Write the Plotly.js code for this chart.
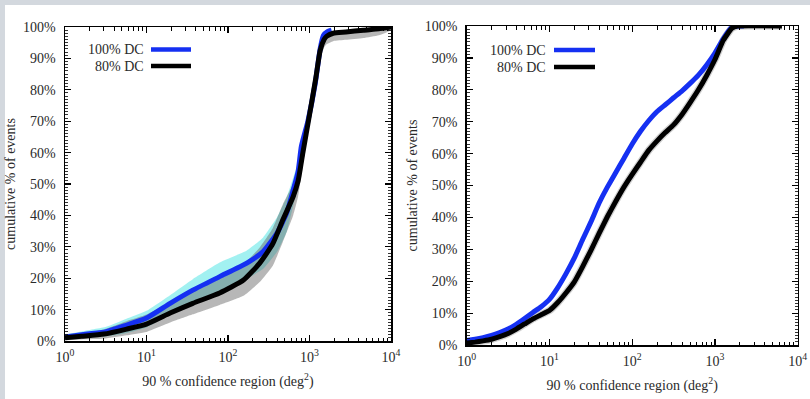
<!DOCTYPE html>
<html><head><meta charset="utf-8">
<script src="https://cdn.plot.ly/plotly-3.0.1.min.js"></script>
<style>html,body{margin:0;padding:0;background:#d3d8de;overflow:hidden}#chart{width:810px;height:399px}</style>
</head><body><div id="chart"></div><script>
// ---------- data ----------
const seriesNames = ['100% DC', '80% DC'];
const xTickVals = [1, 10, 100, 1000, 10000];
const xTickText = ['10<sup>0</sup>', '10<sup>1</sup>', '10<sup>2</sup>', '10<sup>3</sup>', '10<sup>4</sup>'];

// Left panel
const leftBlueX = [1, 1.6, 3.2, 5.6, 10, 19.5, 37, 79, 170, 270, 400, 525, 630, 725, 795, 955, 1175, 1350, 1480, 1660, 1860];
const leftBlueY = [1.3, 2.0, 3.0, 5.0, 7.3, 12, 16.2, 20.5, 24.8, 28.5, 34.4, 40.8, 48, 54, 62, 70, 82, 93, 97.3, 98.5, 99];
const leftBlueUpper = [2.1, 3.0, 4.5, 7.0, 9.6, 14.6, 19.7, 25.0, 28.8, 33.0, 39.4, 45.8, 52, 57, 64, 72, 84, 94.5, 98.3, 99.3, 99.5];
const leftBlueLower = [0.5, 1.0, 1.5, 2.5, 4.3, 8.5, 12.2, 16.0, 19.8, 23.0, 28.4, 34.8, 43, 50, 59, 67, 79, 91, 95.8, 97.5, 98.5];

const leftBlackX = [1, 1.6, 3, 5.7, 10, 19.5, 37, 79, 155, 245, 355, 470, 630, 725, 830, 1000, 1200, 1350, 1510, 1620, 1950, 2800, 4570, 7080, 10000];
const leftBlackY = [1.0, 1.5, 2.2, 3.8, 5.4, 8.9, 12, 15.3, 19.4, 24.8, 31, 38.5, 46, 51, 60, 72, 84, 92.5, 96, 97, 98, 98.4, 99, 99.4, 100];
const leftBlackUpper = [1.8, 2.5, 3.7, 6.3, 8.4, 12.4, 16, 19.8, 24.4, 29.8, 36, 43.5, 50, 54, 63, 75, 86, 94, 97, 97.5, 98.5, 98.7, 99.3, 99.7, 100.3];
const leftBlackLower = [0.2, 0.5, 0.7, 1.8, 2.9, 5.9, 8.5, 11.5, 14.4, 18.8, 24, 31.5, 40, 46, 56, 69, 81, 89.5, 93.5, 94.5, 95.5, 95.9, 96.5, 97.4, 99];

// Right panel
const rightBlueX = [1, 1.26, 1.58, 2.0, 2.51, 3.16, 3.98, 5.01, 6.31, 7.94, 10, 12.6, 15.8, 20, 25.1, 31.6, 39.8, 50.1, 63.1, 79.4, 100, 126, 158, 200, 251, 316, 398, 501, 631, 794, 1000, 1259, 1585, 1905, 2239];
const rightBlueY = [1.4, 1.8, 2.3, 3.0, 3.9, 5.0, 6.5, 8.3, 10.2, 12.0, 14.3, 18.0, 22.3, 27.3, 33.0, 38.5, 44.5, 49.5, 54.0, 58.5, 63.0, 67.0, 70.3, 73.2, 75.3, 77.5, 79.6, 82.0, 84.6, 87.8, 91.5, 96.0, 99.5, 100, 100];
const rightBlackX = [1, 1.26, 1.58, 2.0, 2.51, 3.16, 3.98, 5.01, 6.31, 7.94, 10, 12.6, 15.8, 20, 25.1, 31.6, 39.8, 50.1, 63.1, 79.4, 100, 126, 158, 200, 251, 316, 398, 501, 631, 794, 1000, 1259, 1585, 1862, 6450];
const rightBlackY = [0.6, 0.9, 1.3, 1.8, 2.6, 3.6, 5.0, 6.6, 8.2, 9.5, 10.8, 13.3, 16.3, 19.8, 24.5, 29.6, 35.0, 40.2, 45.0, 49.5, 53.5, 57.3, 61.0, 64.0, 66.6, 69.0, 72.2, 76.0, 80.0, 84.5, 89.5, 95.5, 99.2, 100, 100];

// ---------- styling ----------
const W = 810, H = 399;
const fx = p => p / W, fy = p => 1 - p / H;
const BLUE = '#1530f2', BLACK = '#000000';
const FONT = {family: 'Liberation Serif, Times New Roman, serif', size: 14, color: '#2a2a2a'};

function band(xs, lo, hi, color, xa, ya) {
  return {x: xs.concat(xs.slice().reverse()), y: lo.concat(hi.slice().reverse()),
    xaxis: xa, yaxis: ya, type: 'scatter', mode: 'lines', fill: 'toself',
    fillcolor: color, line: {width: 0, shape: 'spline', smoothing: 0.4}, hoverinfo: 'skip', showlegend: false};
}
function line(xs, ys, color, name, xa, ya, sm) {
  return {x: xs, y: ys, xaxis: xa, yaxis: ya, type: 'scatter', mode: 'lines', name: name,
    line: {color: color, width: 5, shape: 'spline', smoothing: sm}, showlegend: false};
}

const traces = [
  band(leftBlueX, leftBlueLower, leftBlueUpper, 'rgba(70,228,228,0.5)', 'x', 'y'),
  band(leftBlackX, leftBlackLower, leftBlackUpper, 'rgba(95,95,95,0.45)', 'x', 'y'),
  line(leftBlueX, leftBlueY, BLUE, seriesNames[0], 'x', 'y', 0.5),
  line(leftBlackX, leftBlackY, BLACK, seriesNames[1], 'x', 'y', 0.5),
  line(rightBlackX, rightBlackY, 'rgba(120,120,120,0.35)', seriesNames[1], 'x2', 'y2', 0.3),
  line(rightBlueX, rightBlueY, BLUE, seriesNames[0], 'x2', 'y2', 0.3),
  line(rightBlackX, rightBlackY, BLACK, seriesNames[1], 'x2', 'y2', 0.3)
];
traces[4].line.width = 7.5;

const minorX = [];
for (let d = 1; d < 10000; d *= 10) for (let k = 2; k <= 9; k++) minorX.push(k * d);

function xAxis(dom, anchor) {
  return {type: 'log', range: [0, 4], domain: dom, anchor: anchor,
    showline: true, linewidth: 1.5, linecolor: '#000', mirror: 'ticks',
    ticks: 'inside', ticklen: 6, tickwidth: 1.2, tickcolor: '#000',
    tickmode: 'array', tickvals: xTickVals, ticktext: xTickText,
    minor: {ticks: 'inside', ticklen: 3.5, tickwidth: 1, tickcolor: '#000', tickmode: 'array', tickvals: minorX, showgrid: false},
    showgrid: false, zeroline: false, tickfont: FONT, ticklabelstandoff: 3,
    title: {text: '90 % confidence region (deg<sup>2</sup>)', font: FONT, standoff: 12}, automargin: false, fixedrange: true};
}
function yAxis(dom, anchor) {
  return {range: [0, 100], domain: dom, anchor: anchor,
    showline: true, linewidth: 1.5, linecolor: '#000', mirror: 'ticks',
    ticks: 'inside', ticklen: 6, tickwidth: 1.2, tickcolor: '#000',
    dtick: 10, tick0: 0, ticksuffix: '%',
    minor: {ticks: 'inside', ticklen: 3, tickwidth: 0.8, tickcolor: '#000', dtick: 1, showgrid: false},
    showgrid: false, zeroline: false, tickfont: FONT, ticklabelstandoff: 5,
    title: {text: 'cumulative % of events', font: FONT, standoff: 4}, automargin: false, fixedrange: true};
}

// legend drawn as text + line samples
function legendItems(textRight, lineX0, lineX1, y1, y2) {
  const ann = [
    {xref: 'paper', yref: 'paper', x: fx(textRight), y: fy(y1), xanchor: 'right', yanchor: 'middle', text: seriesNames[0], showarrow: false, font: FONT},
    {xref: 'paper', yref: 'paper', x: fx(textRight), y: fy(y2), xanchor: 'right', yanchor: 'middle', text: seriesNames[1], showarrow: false, font: FONT}
  ];
  const shp = [
    {type: 'line', xref: 'paper', yref: 'paper', x0: fx(lineX0), x1: fx(lineX1), y0: fy(y1), y1: fy(y1), line: {color: BLUE, width: 4.5}},
    {type: 'line', xref: 'paper', yref: 'paper', x0: fx(lineX0), x1: fx(lineX1), y0: fy(y2), y1: fy(y2), line: {color: BLACK, width: 4.5}}
  ];
  return {ann, shp};
}
const L1 = legendItems(146, 151, 191, 49.5, 66);
const L2 = legendItems(548, 554, 595, 50, 67);

const layout = {
  width: W, height: H, margin: {l: 0, r: 0, t: 0, b: 0},
  paper_bgcolor: '#d3d8de', plot_bgcolor: 'rgba(0,0,0,0)',
  showlegend: false, font: FONT,
  xaxis: xAxis([fx(65), fx(391)], 'y'),
  yaxis: yAxis([fy(341), fy(27)], 'x'),
  xaxis2: xAxis([fx(466.7), fx(797.7)], 'y2'),
  yaxis2: yAxis([fy(345), fy(26)], 'x2'),
  annotations: L1.ann.concat(L2.ann),
  shapes: [{type: 'rect', xref: 'paper', yref: 'paper', x0: fx(5), x1: 1.01, y0: -0.01, y1: fy(5), fillcolor: '#ffffff', line: {width: 0}, layer: 'below'}].concat(L1.shp, L2.shp)
};

Plotly.newPlot('chart', traces, layout, {staticPlot: true, displayModeBar: false});
</script></body></html>
